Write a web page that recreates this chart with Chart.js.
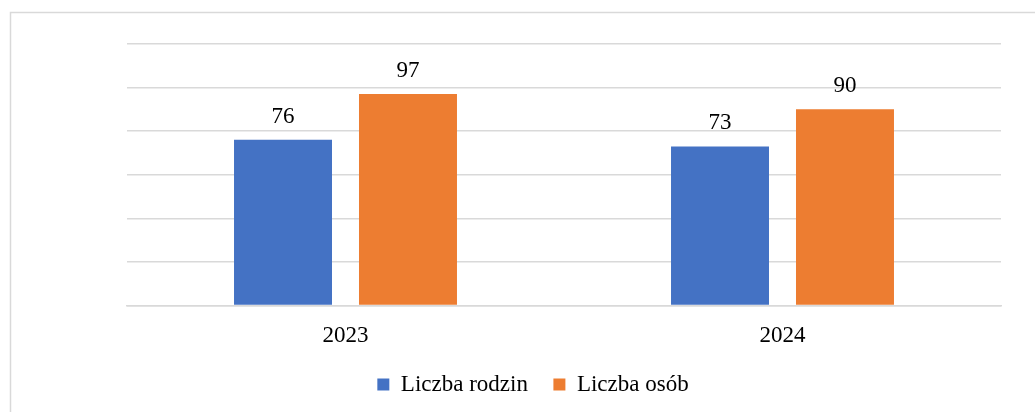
<!DOCTYPE html>
<html>
<head>
<meta charset="utf-8">
<script src="https://cdn.jsdelivr.net/npm/chart.js@4/dist/chart.umd.min.js"></script>
<style>
  html, body { margin: 0; padding: 0; background: #fff; }
  #wrap { width: 1035px; height: 412px; }
</style>
</head>
<body>
<div id="wrap"><canvas id="chart" width="1035" height="412"></canvas></div>
<script>
// values
const years = ['2023', '2024']
const families = [76, 73]
const people = [97, 90]
const seriesNames = ['Liczba rodzin', 'Liczba osób']

const serif = '"Liberation Serif", "Times New Roman", serif'

// outer frame (only left and top edges visible)
const framePlugin = {
  id: 'frame',
  beforeDraw(chart) {
    const c = chart.ctx
    c.save()
    c.strokeStyle = '#d9d9d9'
    c.lineWidth = 1.5
    c.beginPath()
    c.moveTo(10.5, 412)
    c.lineTo(10.5, 12.5)
    c.lineTo(1035, 12.5)
    c.stroke()
    c.restore()
  }
}

// value labels above bars
const valueLabels = {
  id: 'valueLabels',
  afterDatasetsDraw(chart) {
    const c = chart.ctx
    c.save()
    c.font = '23px ' + serif
    c.fillStyle = '#000'
    c.textAlign = 'center'
    c.textBaseline = 'middle'
    chart.data.datasets.forEach((ds, i) => {
      chart.getDatasetMeta(i).data.forEach((bar, j) => {
        c.fillText(ds.data[j], bar.x, bar.y - 23)
      })
    })
    c.restore()
  }
}

const ctx = document.getElementById('chart').getContext('2d')
const chart = new Chart(ctx, {
  type: 'bar',
  data: {
    labels: years,
    datasets: [
      {
        label: seriesNames[0],
        data: families,
        backgroundColor: '#4472C4',
        barPercentage: 0.784,
        categoryPercentage: 0.572
      },
      {
        label: seriesNames[1],
        data: people,
        backgroundColor: '#ED7D31',
        barPercentage: 0.784,
        categoryPercentage: 0.572
      }
    ]
  },
  options: {
    responsive: false,
    animation: false,
    layout: { padding: { left: 40, right: 9, top: 44, bottom: 6 } },
    scales: {
      x: {
        grid: { display: false },
        border: { display: true, color: '#d9d9d9', width: 1.5 },
        ticks: { color: '#000', font: { family: serif, size: 23 }, padding: 9 }
      },
      y: {
        min: 0,
        max: 120,
        ticks: { display: false, stepSize: 20 },
        border: { display: false },
        grid: { color: '#d9d9d9', lineWidth: 1.5, drawTicks: false },
        afterFit(s) { s.width = 87 }
      },
      y2: {
        type: 'linear',
        position: 'right',
        ticks: { display: false },
        border: { display: false },
        grid: { display: false },
        afterFit(s) { s.width = 25 }
      }
    },
    plugins: {
      legend: {
        position: 'bottom',
        labels: {
          color: '#000',
          font: { family: serif, size: 23 },
          boxWidth: 12,
          boxHeight: 12,
          padding: 14,
          // a bit more room between the two legend items
          generateLabels(chart) {
            const items = Chart.defaults.plugins.legend.labels.generateLabels(chart)
            items[0].text += '\u00a0\u00a0'
            return items
          }
        }
      },
      tooltip: { enabled: false }
    }
  },
  plugins: [framePlugin, valueLabels]
})
</script>
</body>
</html>
